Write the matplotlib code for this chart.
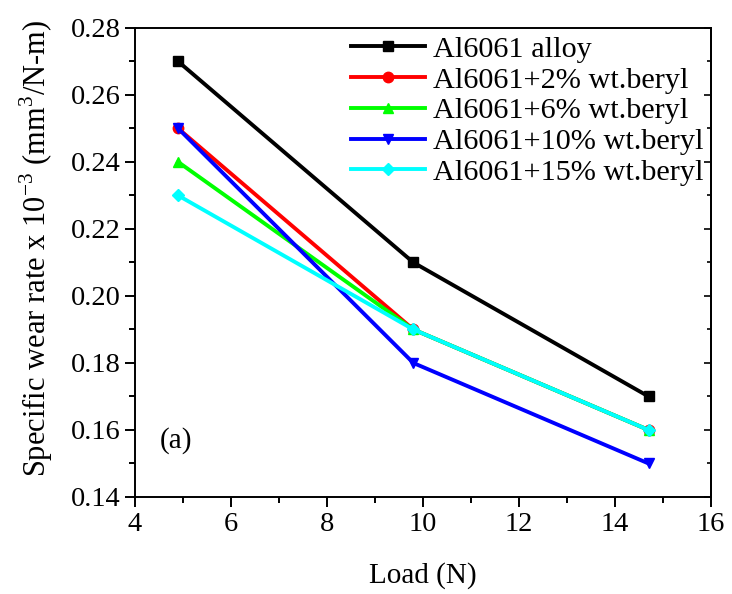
#!/usr/bin/env python3

import matplotlib
matplotlib.use("Agg")
import matplotlib.pyplot as plt
from matplotlib.ticker import MultipleLocator, FormatStrFormatter

plt.rcParams["font.family"] = ["Liberation Serif", "DejaVu Serif"]
plt.rcParams["mathtext.fontset"] = "custom"
plt.rcParams["mathtext.rm"] = "Liberation Serif"

load = [4.9, 9.8, 14.7]
labels = [
    "Al6061 alloy",
    "Al6061+2% wt.beryl",
    "Al6061+6% wt.beryl",
    "Al6061+10% wt.beryl",
    "Al6061+15% wt.beryl",
]
alloy = [0.27, 0.21, 0.17]
beryl_2 = [0.25, 0.19, 0.16]
beryl_6 = [0.24, 0.19, 0.16]
beryl_10 = [0.25, 0.18, 0.15]
beryl_15 = [0.23, 0.19, 0.16]

series = [alloy, beryl_2, beryl_6, beryl_10, beryl_15]
colors = ["#000000", "#ff0000", "#00ff00", "#0000ff", "#00ffff"]
markers = ["s", "o", "^", "v", "D"]
sizes = [6.5, 7.5, 7.5, 7.5, 6.5]


def draw_plot():
    fig = plt.figure(figsize=(7.32, 5.94), dpi=100)
    ax = fig.add_axes([0.1844, 0.1633, 0.7869, 0.7896])

    for values, label, color, marker, ms in zip(series, labels, colors, markers, sizes):
        ax.plot(load, values, color=color, marker=marker, markersize=ms,
                linewidth=2.8, label=label)

    ax.set_xlim(4, 16)
    ax.set_ylim(0.14, 0.28)
    ax.xaxis.set_major_locator(MultipleLocator(2))
    ax.xaxis.set_minor_locator(MultipleLocator(1))
    ax.yaxis.set_major_locator(MultipleLocator(0.02))
    ax.yaxis.set_minor_locator(MultipleLocator(0.01))
    ax.yaxis.set_major_formatter(FormatStrFormatter("%.2f"))

    ax.tick_params(which="both", direction="out", width=1.4, labelsize=20.5,
                   top=False, right=False)
    ax.tick_params(which="major", length=7)
    ax.tick_params(which="minor", length=4)

    # right side: small inward ticks, no labels
    sec = ax.secondary_yaxis("right")
    sec.yaxis.set_major_locator(MultipleLocator(0.02))
    sec.yaxis.set_minor_locator(MultipleLocator(0.01))
    sec.tick_params(which="both", direction="in", width=1.2, labelright=False)
    sec.tick_params(which="major", length=5)
    sec.tick_params(which="minor", length=3)
    sec.spines["right"].set_linewidth(1.4)

    for spine in ax.spines.values():
        spine.set_linewidth(1.4)

    ax.set_xlabel("Load (N)", fontsize=21, labelpad=18)
    ax.set_ylabel(r"Specific wear rate x 10$^{\mathregular{-3}}$ (mm$^{\mathregular{3}}$/N-m)",
                  fontsize=22)
    ax.yaxis.set_label_coords(-0.138, 0.53)

    ax.text(4.52, 0.157, "(a)", fontsize=21, va="center", ha="left")

    ax.legend(loc="upper left", bbox_to_anchor=(0.375, 0.984), frameon=False,
              fontsize=21.8, handlelength=2.45, numpoints=1, borderpad=0,
              borderaxespad=0, labelspacing=0.12, handletextpad=0.25)

    fig.savefig("out.png", dpi=100)


if __name__ == "__main__":
    draw_plot()
